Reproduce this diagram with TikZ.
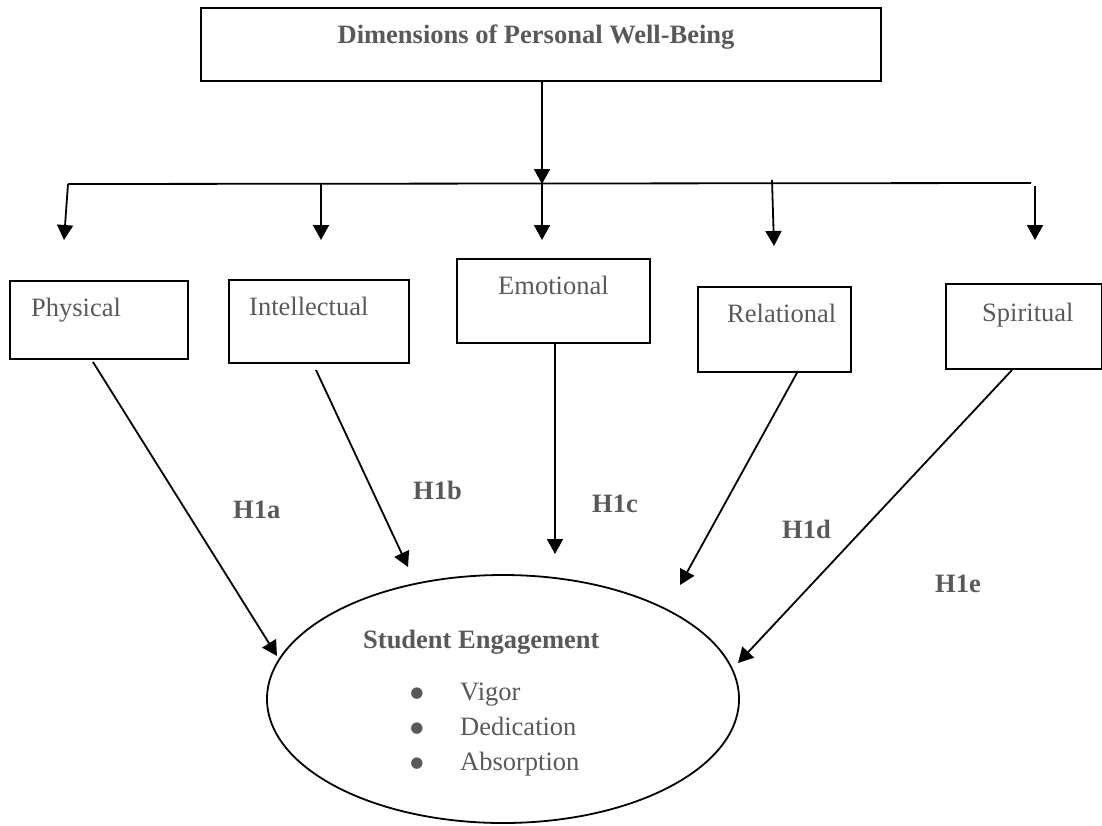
\documentclass[tikz,border=0pt]{standalone}
\usepackage{fontspec}
\setmainfont{Liberation Serif}
\newfontfamily\bulfont{DejaVu Sans}
\usetikzlibrary{arrows.meta,shapes.geometric}
\definecolor{txtgray}{HTML}{595959}
\tikzset{
  box/.style={draw=black,line width=1.8pt,rectangle,inner sep=0pt,anchor=north west},
  lbl/.style={anchor=base west,inner sep=0pt,text=txtgray,font=\fontsize{26.5}{30}\selectfont},
  blbl/.style={lbl,font=\fontsize{26.5}{30}\selectfont\bfseries},
  bul/.style={anchor=base,inner sep=0pt,text=txtgray,font=\bulfont\fontsize{15}{16}\selectfont},
  conn/.style={line width=1.8pt,draw=black},
  arr/.style={conn,-{Triangle[width=16pt,length=15pt]}},
}
\begin{document}
\begin{tikzpicture}[x=1pt,y=-1pt]
\useasboundingbox (0,0) rectangle (1102,825);
% top box
\node[box,minimum width=680pt,minimum height=73pt] (top) at (200,7) {};
\node[blbl,anchor=base] (toptxt) at (536,43) {Dimensions of Personal Well-Being};
% dimension boxes
\node[box,minimum width=178pt,minimum height=78pt] (phys) at (9,280) {};
\node[lbl] (physt) at (31,316) {Physical};
\node[box,minimum width=180pt,minimum height=83pt] (intel) at (228,279) {};
\node[lbl] (intelt) at (249,315) {Intellectual};
\node[box,minimum width=193pt,minimum height=84pt] (emo) at (456,258) {};
\node[lbl] (emot) at (498,294) {Emotional};
\node[box,minimum width=153pt,minimum height=85pt] (rel) at (697,286) {};
\node[lbl] (relt) at (727,322) {Relational};
\node[box,minimum width=156pt,minimum height=85pt] (spir) at (945,283) {};
\node[lbl] (spirt) at (982,321) {Spiritual};
% ellipse
\node[draw=black,line width=1.8pt,ellipse,minimum width=472pt,minimum height=248pt,inner sep=0pt] (se) at (503,699) {};
\node[blbl] (set) at (363,648) {Student Engagement};
\node[bul] (b1) at (417,697) {●};
\node[lbl] (v) at (460,700) {Vigor};
\node[bul] (b2) at (417,732) {●};
\node[lbl] (d) at (460,735) {Dedication};
\node[bul] (b3) at (417,767) {●};
\node[lbl] (a) at (460,770) {Absorption};
% hypothesis labels
\node[blbl] (h1a) at (233,518) {H1a};
\node[blbl] (h1b) at (413,499) {H1b};
\node[blbl] (h1c) at (592,512) {H1c};
\node[blbl] (h1d) at (782,538) {H1d};
\node[blbl] (h1e) at (935,592) {H1e};
% coordinates
\coordinate (topout) at (542,80);
\coordinate (hub) at (542,184);
\coordinate (lineL) at (68,184);
\coordinate (lineR) at (1031,183);
\coordinate (s2) at (321,184);
\coordinate (s4) at (772,180);
\coordinate (s5) at (1035,186);
\coordinate (t1) at (64,240);
\coordinate (t2) at (321,240);
\coordinate (t3) at (542,240);
\coordinate (t4) at (774,246);
\coordinate (t5) at (1035,240);
\coordinate (pa) at (93,362);
\coordinate (pe) at (277,656);
\coordinate (ia) at (316,370);
\coordinate (ie) at (408,567);
\coordinate (ea) at (555,342);
\coordinate (ee) at (555,554);
\coordinate (ra) at (798,371);
\coordinate (re) at (680,585);
\coordinate (sa) at (1012,370);
\coordinate (sx) at (738,663);
% connectors
\draw[arr] (topout) -- (hub);
\draw[conn] (lineL) -- (lineR);
\draw[arr] (lineL) -- (t1);
\draw[arr] (s2) -- (t2);
\draw[arr] (hub) -- (t3);
\draw[arr] (s4) -- (t4);
\draw[arr] (s5) -- (t5);
\draw[arr] (pa) -- (pe);
\draw[arr] (ia) -- (ie);
\draw[arr] (ea) -- (ee);
\draw[arr] (ra) -- (re);
\draw[arr] (sa) -- (sx);
\end{tikzpicture}
\end{document}
